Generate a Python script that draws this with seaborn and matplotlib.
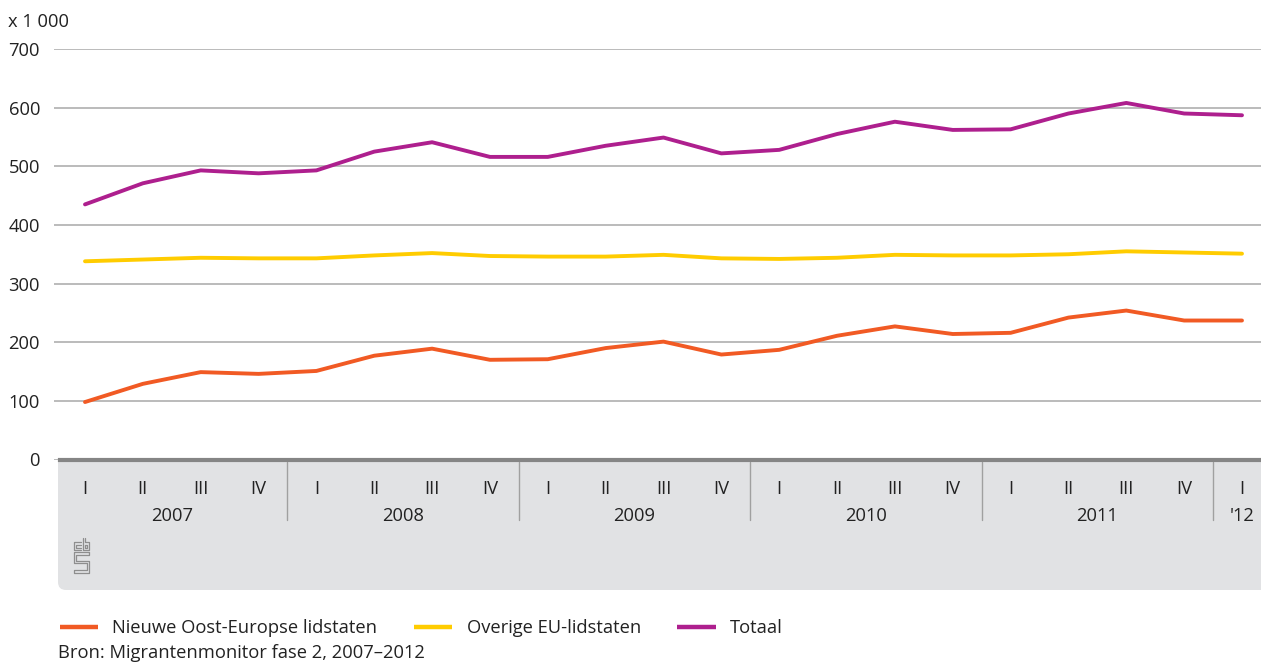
import numpy as np
import pandas as pd
import matplotlib
matplotlib.use("Agg")
import matplotlib.pyplot as plt
import matplotlib.transforms as mtransforms
from matplotlib.patches import Rectangle, FancyBboxPatch
import seaborn as sns

# ---------------- data ----------------
quarters = ["I", "II", "III", "IV"] * 5 + ["I"]
years = ["2007", "2008", "2009", "2010", "2011", "'12"]
oost_europa = [98, 129, 149, 146, 151, 177, 189, 170, 171, 190, 201, 179, 187,
               211, 227, 214, 216, 242, 254, 237, 237]
overige_eu = [338, 341, 344, 343, 343, 348, 352, 347, 346, 346, 349, 343, 342,
              344, 349, 348, 348, 350, 355, 353, 351]
totaal = [435, 471, 493, 488, 493, 525, 541, 516, 516, 535, 549, 522, 528,
          555, 576, 562, 563, 590, 608, 590, 587]
series_names = ["Nieuwe Oost-Europse lidstaten", "Overige EU-lidstaten", "Totaal"]
colors = ["#F15A24", "#FFCC00", "#AE1F8E"]

W, H = 1261, 663
sns.set_theme(style="white")
plt.rcParams["font.family"] = ["Open Sans", "DejaVu Sans"]
TXT = "#222222"
FS = 13.2

n = len(totaal)
idx = np.arange(n)
df = pd.DataFrame({
    "idx": np.concatenate([idx, idx, idx]),
    "value": oost_europa + overige_eu + totaal,
    "series": np.repeat(series_names, n),
})

fig = plt.figure(figsize=(W / 100, H / 100), dpi=100)
fig.patch.set_facecolor("white")

def fx(px):
    return px / W

def fy(py):
    return 1 - py / H

# axes placement (pixel based)
ax_l, ax_r, ax_t, ax_b = 54, 1261, 49, 459.5
ax = fig.add_axes([fx(ax_l), fy(ax_b), fx(ax_r - ax_l), (ax_b - ax_t) / H])
ax.set_facecolor("none")

# gray band under the axis
band_l, band_t, band_b = 58, 461, 590
r = 8
band_col = "#E1E2E4"
fig.patches.append(FancyBboxPatch((fx(band_l + r), fy(band_b - r)),
                                  fx(W + 40 - band_l - 2 * r), (band_b - band_t - 2 * r) / H,
                                  boxstyle=f"round,pad={r / W}", transform=fig.transFigure,
                                  facecolor=band_col, edgecolor="none", zorder=-5,
                                  mutation_aspect=W / H))
fig.patches.append(Rectangle((fx(band_l), fy(band_t + 40)), fx(W - band_l), 40 / H,
                             transform=fig.transFigure, facecolor=band_col,
                             edgecolor="none", zorder=-4))

sns.lineplot(data=df, x="idx", y="value", hue="series", palette=colors,
             hue_order=series_names, linewidth=2.8, ax=ax, zorder=3)

step = (1242 - 85) / (n - 1)
ax.set_xlim((ax_l - 85) / step, (ax_r - 85) / step)
ax.set_ylim(0, 700)
ax.set_yticks(range(0, 701, 100))
ax.set_yticklabels([str(v) for v in range(0, 701, 100)], fontsize=FS, color=TXT)
ax.tick_params(axis="y", length=0, pad=10)
ax.yaxis.grid(True, color="#A8A8A8", linewidth=1.1)
ax.set_axisbelow(True)
for s in ["top", "right", "left"]:
    ax.spines[s].set_visible(False)
ax.spines["bottom"].set_color("#858585")
ax.spines["bottom"].set_linewidth(3.0)
ax.spines["bottom"].set_bounds((60 - 85) / step, (ax_r - 85) / step)
ax.spines["bottom"].set_zorder(4)

ax.set_xticks(idx)
ax.set_xticklabels(quarters, fontsize=FS, color=TXT)
ax.tick_params(axis="x", length=9.5, width=0.9, color="#9A9A9A", pad=5, direction="out")
ax.set_xlabel("")
ax.set_ylabel("")

trans = mtransforms.blended_transform_factory(ax.transData, ax.transAxes)
axh = ax_b - ax_t
year_centers = [1.5, 5.5, 9.5, 13.5, 17.5, 20]
for yc, lab in zip(year_centers, years):
    ax.text(yc, -(516 - ax_b) / axh, lab, transform=trans, ha="center", va="center",
            fontsize=FS, color=TXT)
for sep in [3.5, 7.5, 11.5, 15.5, 19.5]:
    ax.plot([sep, sep], [-(462 - ax_b) / axh, -(520 - ax_b) / axh], transform=trans,
            color="#A0A0A0", linewidth=1.0, clip_on=False, zorder=2)

# unit label
fig.text(fx(8), fy(22), "x 1 000", ha="left", va="center", fontsize=FS, color=TXT)

# cbs logo (simple outline sketch)
logo_col = "#8E8E8E"
def seg(xs, ys):
    fig.add_artist(plt.Line2D([fx(v) for v in xs], [fy(v) for v in ys],
                              color=logo_col, linewidth=0.9, transform=fig.transFigure))
# c
seg([81, 74, 74, 81], [542, 542, 550, 550])
seg([81, 76, 76, 81], [544.5, 544.5, 547.5, 547.5])
# b
seg([82.5, 82.5, 89, 89, 84.5, 84.5], [538, 550, 550, 542, 542, 538])
seg([84.5, 87, 87, 84.5, 84.5], [544.5, 544.5, 547.5, 547.5, 544.5])
# s
seg([89, 74, 74, 87, 87, 74, 74, 89, 89, 76, 76, 89, 89],
    [552, 552, 563, 563, 570, 570, 573, 573, 561, 561, 554.5, 554.5, 552])

# legend
leg = ax.get_legend()
handles, labels = ax.get_legend_handles_labels()
if leg is not None:
    leg.remove()
lg = fig.legend(handles, labels, loc="center left", bbox_to_anchor=(fx(60), fy(628)),
                bbox_transform=fig.transFigure, ncol=3, frameon=False, fontsize=FS,
                handlelength=2.08, handletextpad=0.78, columnspacing=2.0,
                borderpad=0, borderaxespad=0)
for t in lg.get_texts():
    t.set_color(TXT)
for h in lg.legend_handles:
    h.set_linewidth(3.2)
    h.set_solid_capstyle("butt")

fig.text(fx(58), fy(653), "Bron: Migrantenmonitor fase 2, 2007\u20132012", ha="left",
         va="center", fontsize=FS, color=TXT)

fig.savefig("out.png", dpi=100)
